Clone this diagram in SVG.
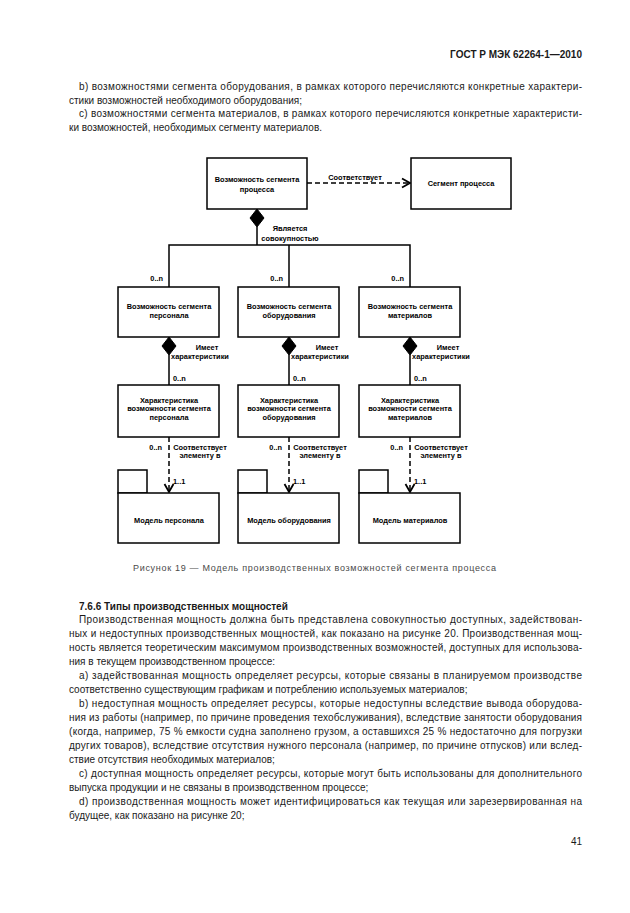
<svg xmlns="http://www.w3.org/2000/svg" width="630" height="913" viewBox="0 0 630 913">
<style>
.t{font-family:"Liberation Sans",Arial,sans-serif;font-size:10px;fill:#1a1a1a}
.b{font-weight:bold}
.d{font-family:"Liberation Sans",Arial,sans-serif;font-size:7.4px;font-weight:bold;fill:#000;text-anchor:middle}
.ds{font-family:"Liberation Sans",Arial,sans-serif;font-size:7.4px;font-weight:bold;fill:#000}
.box{fill:#fff;stroke:#000;stroke-width:1.5}
.ln{fill:none;stroke:#000;stroke-width:1.5}
.dash{fill:none;stroke:#000;stroke-width:1.5;stroke-dasharray:5 3}
.dia{fill:#000;stroke:#000;stroke-width:1}
.cap{font-family:"Liberation Sans",Arial,sans-serif;font-size:9px;fill:#4a4a4a}
</style>
<defs>
<marker id="arr" markerUnits="userSpaceOnUse" markerWidth="12" markerHeight="12" viewBox="0 0 12 12" refX="10" refY="6" orient="auto">
<path d="M2,1.5 L10,6 L2,10.5" fill="none" stroke="#000" stroke-width="1.8"/>
</marker>
</defs>
<rect width="630" height="913" fill="#fff"/>

<text class="t b" x="582" y="58" text-anchor="end" font-size="10.5">ГОСТ Р МЭК 62264-1—2010</text>

<text class="t" x="79" y="89.5" textLength="503" lengthAdjust="spacing">b) возможностями сегмента оборудования, в рамках которого перечисляются конкретные характери-</text>
<text class="t" x="69" y="104">стики возможностей необходимого оборудования;</text>
<text class="t" x="79" y="117" textLength="503" lengthAdjust="spacing">с) возможностями сегмента материалов, в рамках которого перечисляются конкретные характеристи-</text>
<text class="t" x="69" y="131">ки возможностей, необходимых сегменту материалов.</text>

<g id="connectors">
<line class="dash" x1="307" y1="183" x2="410" y2="183" marker-end="url(#arr)"/>
<polygon class="dia" points="257,209 264,218 257,227 250,218"/>
<polyline class="ln" points="257,227 257,245"/>
<polyline class="ln" points="169,287 169,245 410,245 410,287"/>
<polyline class="ln" points="289,245 289,287"/>
<polygon class="dia" points="169,337 176,346 169,355 162,346"/>
<polygon class="dia" points="289,337 296,346 289,355 282,346"/>
<polygon class="dia" points="410,337 417,346 410,355 403,346"/>
<line class="ln" x1="169" y1="355" x2="169" y2="385"/>
<line class="ln" x1="289" y1="355" x2="289" y2="385"/>
<line class="ln" x1="410" y1="355" x2="410" y2="385"/>
<line class="dash" x1="169" y1="437" x2="169" y2="492" marker-end="url(#arr)"/>
<line class="dash" x1="289" y1="437" x2="289" y2="492" marker-end="url(#arr)"/>
<line class="dash" x1="410" y1="437" x2="410" y2="492" marker-end="url(#arr)"/>
<text class="d" x="355" y="180">Соответствует</text>
<text class="d" x="290" y="230.5">Является</text>
<text class="d" x="290" y="240.5">совокупностью</text>
<text class="ds" x="163" y="281" text-anchor="end">0..n</text>
<text class="ds" x="283" y="281" text-anchor="end">0..n</text>
<text class="ds" x="404" y="281" text-anchor="end">0..n</text>
<text class="d" x="207" y="350">Имеет</text>
<text class="d" x="200" y="359">характеристики</text>
<text class="d" x="327" y="350">Имеет</text>
<text class="d" x="320" y="359">характеристики</text>
<text class="d" x="448" y="350">Имеет</text>
<text class="d" x="441" y="359">характеристики</text>
<text class="ds" x="173" y="381">0..n</text>
<text class="ds" x="293" y="381">0..n</text>
<text class="ds" x="414" y="381">0..n</text>
<text class="ds" x="162" y="449.5" text-anchor="end">0..n</text>
<text class="ds" x="282" y="449.5" text-anchor="end">0..n</text>
<text class="ds" x="403" y="449.5" text-anchor="end">0..n</text>
<text class="d" x="200" y="449.5">Соответствует</text>
<text class="d" x="200" y="458">элементу в</text>
<text class="d" x="320" y="449.5">Соответствует</text>
<text class="d" x="320" y="458">элементу в</text>
<text class="d" x="441" y="449.5">Соответствует</text>
<text class="d" x="441" y="458">элементу в</text>
<text class="ds" x="173" y="484">1..1</text>
<text class="ds" x="293" y="484">1..1</text>
<text class="ds" x="414" y="484">1..1</text>
</g>

<g id="n-process-cap">
<rect class="box" x="207" y="158" width="100" height="51"/>
<text class="d" x="257" y="182">Возможность сегмента</text>
<text class="d" x="257" y="192">процесса</text>
</g>
<g id="n-process-seg">
<rect class="box" x="411" y="158" width="100" height="51"/>
<text class="d" x="461" y="186">Сегмент процесса</text>
</g>

<g id="n-pers-cap">
<rect class="box" x="118" y="287" width="101" height="50"/>
<text class="d" x="169" y="309">Возможность сегмента</text>
<text class="d" x="169" y="318">персонала</text>
</g>
<g id="n-equip-cap">
<rect class="box" x="238" y="287" width="101" height="50"/>
<text class="d" x="289" y="309">Возможность сегмента</text>
<text class="d" x="289" y="318">оборудования</text>
</g>
<g id="n-mat-cap">
<rect class="box" x="359" y="287" width="101" height="50"/>
<text class="d" x="410" y="309">Возможность сегмента</text>
<text class="d" x="410" y="318">материалов</text>
</g>

<g id="n-pers-prop">
<rect class="box" x="118" y="385" width="101" height="52"/>
<text class="d" x="169" y="402.5">Характеристика</text>
<text class="d" x="169" y="411">возможности сегмента</text>
<text class="d" x="169" y="419.5">персонала</text>
</g>
<g id="n-equip-prop">
<rect class="box" x="238" y="385" width="101" height="52"/>
<text class="d" x="289" y="402.5">Характеристика</text>
<text class="d" x="289" y="411">возможности сегмента</text>
<text class="d" x="289" y="419.5">оборудования</text>
</g>
<g id="n-mat-prop">
<rect class="box" x="359" y="385" width="101" height="52"/>
<text class="d" x="410" y="402.5">Характеристика</text>
<text class="d" x="410" y="411">возможности сегмента</text>
<text class="d" x="410" y="419.5">материалов</text>
</g>

<g id="n-pers-model">
<rect class="box" x="118" y="470" width="29" height="23"/>
<rect class="box" x="118" y="493" width="101" height="50"/>
<text class="d" x="169" y="522.5">Модель персонала</text>
</g>
<g id="n-equip-model">
<rect class="box" x="238" y="470" width="29" height="23"/>
<rect class="box" x="238" y="493" width="101" height="50"/>
<text class="d" x="289" y="522.5">Модель оборудования</text>
</g>
<g id="n-mat-model">
<rect class="box" x="359" y="470" width="29" height="23"/>
<rect class="box" x="359" y="493" width="101" height="50"/>
<text class="d" x="410" y="522.5">Модель материалов</text>
</g>

<text class="cap" x="133" y="571" textLength="363" lengthAdjust="spacing">Рисунок 19 — Модель производственных возможностей сегмента процесса</text>

<text class="t b" x="79" y="609.5">7.6.6 Типы производственных мощностей</text>
<text class="t" x="79" y="622.5" textLength="503" lengthAdjust="spacing">Производственная мощность должна быть представлена совокупностью доступных, задействован-</text>
<text class="t" x="69" y="636.5" textLength="513" lengthAdjust="spacing">ных и недоступных производственных мощностей, как показано на рисунке 20. Производственная мощ-</text>
<text class="t" x="69" y="650.5" textLength="513" lengthAdjust="spacing">ность является теоретическим максимумом производственных возможностей, доступных для использова-</text>
<text class="t" x="69" y="664.5">ния в текущем производственном процессе:</text>
<text class="t" x="79" y="678.5" textLength="503" lengthAdjust="spacing">а) задействованная мощность определяет ресурсы, которые связаны в планируемом производстве</text>
<text class="t" x="69" y="692.5">соответственно существующим графикам и потреблению используемых материалов;</text>
<text class="t" x="79" y="706.5" textLength="503" lengthAdjust="spacing">b) недоступная мощность определяет ресурсы, которые недоступны вследствие вывода оборудова-</text>
<text class="t" x="69" y="720.5" textLength="513" lengthAdjust="spacing">ния из работы (например, по причине проведения техобслуживания), вследствие занятости оборудования</text>
<text class="t" x="69" y="734.5" textLength="513" lengthAdjust="spacing">(когда, например, 75 % емкости судна заполнено грузом, а оставшихся 25 % недостаточно для погрузки</text>
<text class="t" x="69" y="748.5" textLength="513" lengthAdjust="spacing">других товаров), вследствие отсутствия нужного персонала (например, по причине отпусков) или вслед-</text>
<text class="t" x="69" y="762.5">ствие отсутствия необходимых материалов;</text>
<text class="t" x="79" y="776.5" textLength="503" lengthAdjust="spacing">с) доступная мощность определяет ресурсы, которые могут быть использованы для дополнительного</text>
<text class="t" x="69" y="790.5">выпуска продукции и не связаны в производственном процессе;</text>
<text class="t" x="79" y="804.5" textLength="503" lengthAdjust="spacing">d) производственная мощность может идентифицироваться как текущая или зарезервированная на</text>
<text class="t" x="69" y="818.5">будущее, как показано на рисунке 20;</text>
<text class="t" x="582" y="845" text-anchor="end">41</text>
</svg>
